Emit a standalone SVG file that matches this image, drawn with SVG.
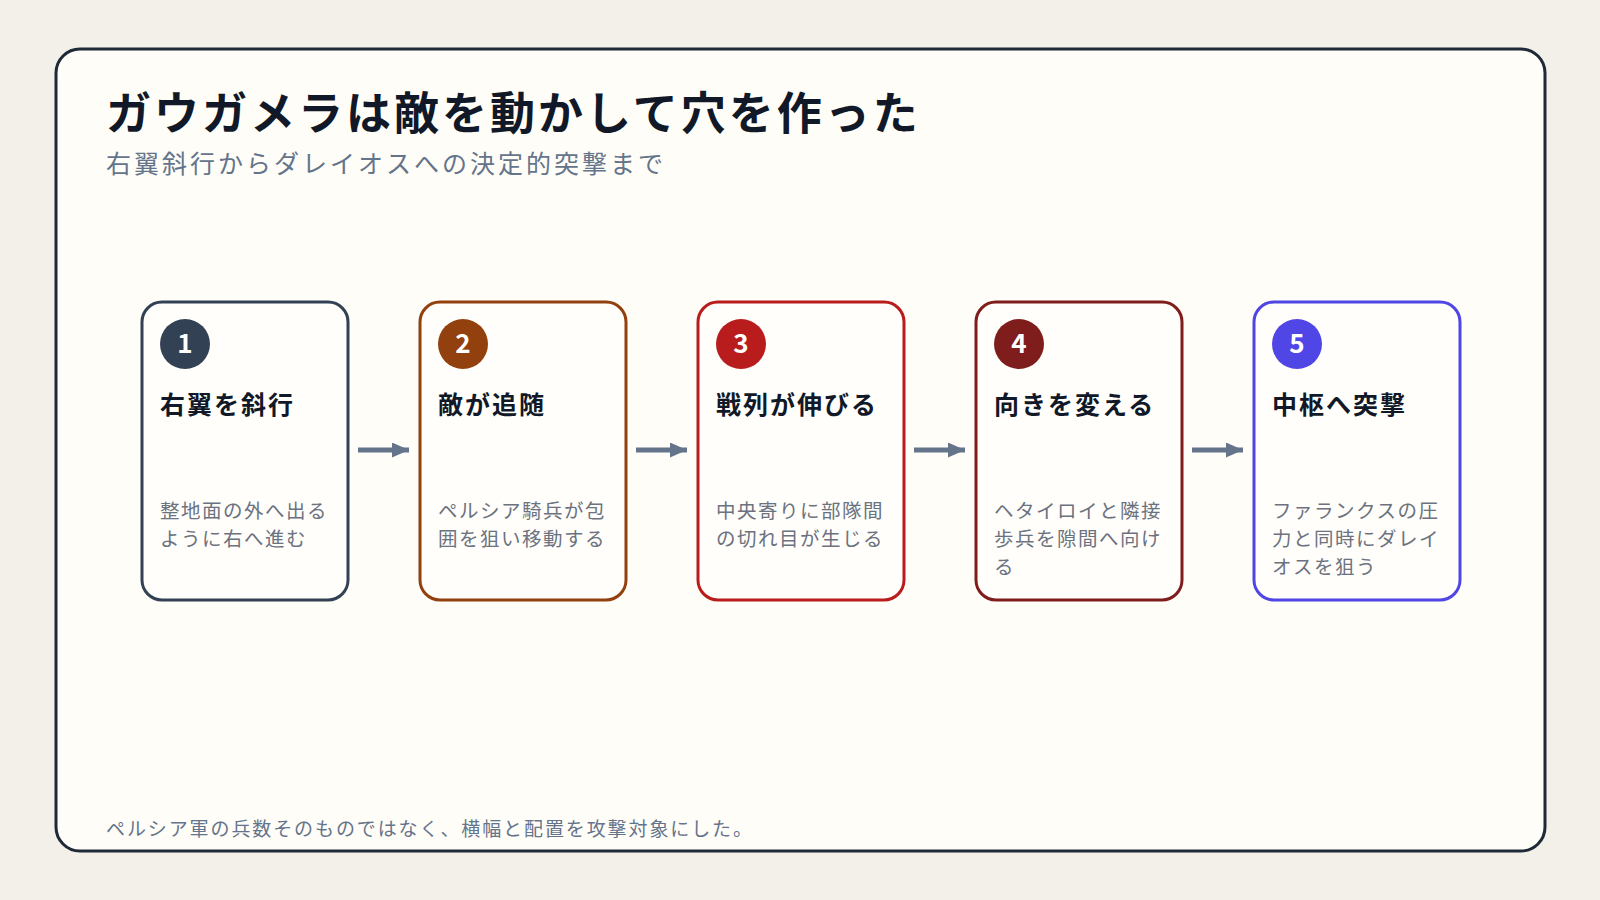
<svg xmlns="http://www.w3.org/2000/svg" width="1600" height="900" viewBox="0 0 1600 900">
<style>
text{font-family:"Noto Sans CJK JP","Noto Sans",sans-serif}
.card{fill:#fffefa;stroke-width:3}
.num{fill:#fff;font-size:26px;font-weight:700;text-anchor:middle}
.head{fill:#111827;font-size:25px;font-weight:700;letter-spacing:2px}
.body{fill:#6b7280;font-size:19.5px;letter-spacing:1.5px}
.arr{stroke:#64748b;stroke-width:5;fill:none}
</style>
<defs><marker id="ah" markerWidth="4" markerHeight="4" refX="3.4" refY="1.5" orient="auto" markerUnits="strokeWidth"><path d="M0,0 L3.4,1.5 L0,3 Z" fill="#64748b"/></marker></defs>
<rect width="1600" height="900" fill="#f3efe9"/>
<rect x="56" y="49" width="1489" height="802" rx="24" fill="#fffdf7" stroke="#1f2937" stroke-width="3"/>
<text x="106" y="130" font-size="45" font-weight="700" fill="#111827" letter-spacing="3">ガウガメラは敵を動かして穴を作った</text>
<text x="106" y="173" font-size="25" fill="#64748b" letter-spacing="3">右翼斜行からダレイオスへの決定的突撃まで</text>
<g id="connectors">
<line class="arr" x1="358" y1="450" x2="409" y2="450" marker-end="url(#ah)"/>
<line class="arr" x1="636" y1="450" x2="687" y2="450" marker-end="url(#ah)"/>
<line class="arr" x1="914" y1="450" x2="965" y2="450" marker-end="url(#ah)"/>
<line class="arr" x1="1192" y1="450" x2="1243" y2="450" marker-end="url(#ah)"/>
</g>
<g id="node1"><rect class="card" x="142" y="302" width="206" height="298" rx="20" stroke="#334155"/><circle cx="185" cy="344" r="25" fill="#334155"/><text class="num" x="185" y="353">1</text><text class="head" x="160" y="414">右翼を斜行</text><text class="body" x="160" y="518">整地面の外へ出る</text><text class="body" x="160" y="546">ように右へ進む</text></g>
<g id="node2"><rect class="card" x="420" y="302" width="206" height="298" rx="20" stroke="#92400e"/><circle cx="463" cy="344" r="25" fill="#92400e"/><text class="num" x="463" y="353">2</text><text class="head" x="438" y="414">敵が追随</text><text class="body" x="438" y="518">ペルシア騎兵が包</text><text class="body" x="438" y="546">囲を狙い移動する</text></g>
<g id="node3"><rect class="card" x="698" y="302" width="206" height="298" rx="20" stroke="#b91c1c"/><circle cx="741" cy="344" r="25" fill="#b91c1c"/><text class="num" x="741" y="353">3</text><text class="head" x="716" y="414">戦列が伸びる</text><text class="body" x="716" y="518">中央寄りに部隊間</text><text class="body" x="716" y="546">の切れ目が生じる</text></g>
<g id="node4"><rect class="card" x="976" y="302" width="206" height="298" rx="20" stroke="#7f1d1d"/><circle cx="1019" cy="344" r="25" fill="#7f1d1d"/><text class="num" x="1019" y="353">4</text><text class="head" x="994" y="414">向きを変える</text><text class="body" x="994" y="518">ヘタイロイと隣接</text><text class="body" x="994" y="546">歩兵を隙間へ向け</text><text class="body" x="994" y="574">る</text></g>
<g id="node5"><rect class="card" x="1254" y="302" width="206" height="298" rx="20" stroke="#4f46e5"/><circle cx="1297" cy="344" r="25" fill="#4f46e5"/><text class="num" x="1297" y="353">5</text><text class="head" x="1272" y="414">中枢へ突撃</text><text class="body" x="1272" y="518">ファランクスの圧</text><text class="body" x="1272" y="546">力と同時にダレイ</text><text class="body" x="1272" y="574">オスを狙う</text></g>
<text x="106" y="836" font-size="19" fill="#64748b" letter-spacing="1.9">ペルシア軍の兵数そのものではなく、横幅と配置を攻撃対象にした。</text>
</svg>
